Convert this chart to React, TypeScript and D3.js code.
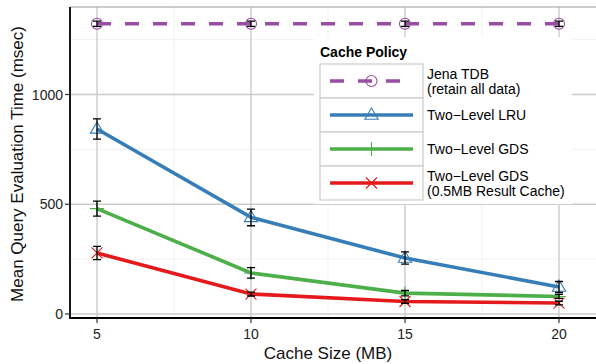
import React, { useEffect, useRef } from 'react';
import * as d3 from 'd3';

const cacheSizes = [5, 10, 15, 20];

const seriesNames = ['jena', 'lru', 'gds', 'gdsResult'];
const seriesLabels = [
  ['Jena TDB', '(retain all data)'],
  ['Two\u2212Level LRU'],
  ['Two\u2212Level GDS'],
  ['Two\u2212Level GDS', '(0.5MB Result Cache)'],
];
const seriesColors = ['#984EA3', '#377EB8', '#4DAF4A', '#E41A1C'];
const seriesShapes = ['circle', 'triangle', 'plus', 'cross'];

const jenaMean = [1322, 1322, 1322, 1322];
const jenaErr = [12, 12, 12, 12];
const lruMean = [843, 440, 255, 123];
const lruErr = [46, 38, 28, 25];
const gdsMean = [480, 187, 95, 80];
const gdsErr = [34, 24, 12, 9];
const gdsResultMean = [278, 91, 57, 50];
const gdsResultErr = [30, 9, 8, 8];

const means = [jenaMean, lruMean, gdsMean, gdsResultMean];
const errs = [jenaErr, lruErr, gdsErr, gdsResultErr];

const xTicks = [5, 10, 15, 20];
const yTicks = [0, 500, 1000];
const xMinor = [7.5, 12.5, 17.5];
const yMinor = [250, 750, 1250];

const font = '"Liberation Sans", Arial, Helvetica, sans-serif';

function drawShape(g: any, shape: string, cx: number, cy: number, color: string) {
  if (shape === 'circle') {
    g.append('circle').attr('cx', cx).attr('cy', cy).attr('r', 5.5)
      .attr('fill', 'none').attr('stroke', color).attr('stroke-width', 1.1);
  } else if (shape === 'triangle') {
    const s = 7;
    g.append('path')
      .attr('d', `M${cx},${cy - s} L${cx + s * 0.95},${cy + s * 0.6} L${cx - s * 0.95},${cy + s * 0.6} Z`)
      .attr('fill', 'none').attr('stroke', color).attr('stroke-width', 1.1);
  } else if (shape === 'plus') {
    const s = 7;
    g.append('path')
      .attr('d', `M${cx - s},${cy} L${cx + s},${cy} M${cx},${cy - s} L${cx},${cy + s}`)
      .attr('stroke', color).attr('stroke-width', 1.1);
  } else {
    const s = 5.5;
    g.append('path')
      .attr('d', `M${cx - s},${cy - s} L${cx + s},${cy + s} M${cx - s},${cy + s} L${cx + s},${cy - s}`)
      .attr('stroke', color).attr('stroke-width', 1.1);
  }
}

function Chart() {
  const svgRef = useRef<SVGSVGElement>(null);

  useEffect(() => {
    if (!svgRef.current) return;
    const width = 596;
    const height = 364;
    const panel = { left: 70, right: 600, top: 7, bottom: 318 };

    const svg = d3.select(svgRef.current);
    svg.selectAll('*').remove();
    svg.attr('width', width).attr('height', height);

    svg.append('rect').attr('width', width).attr('height', height).attr('fill', '#fff');

    const x = d3.scaleLinear().domain([5, 20]).range([97, 559]);
    const y = d3.scaleLinear().domain([0, 1000]).range([314, 94.5]);

    const grid = svg.append('g');
    grid.selectAll('.xminor').data(xMinor).enter().append('line')
      .attr('x1', d => x(d)).attr('x2', d => x(d))
      .attr('y1', panel.top).attr('y2', panel.bottom)
      .attr('stroke', '#f2f2f2').attr('stroke-width', 1);
    grid.selectAll('.yminor').data(yMinor).enter().append('line')
      .attr('x1', panel.left).attr('x2', panel.right)
      .attr('y1', d => y(d)).attr('y2', d => y(d))
      .attr('stroke', '#f2f2f2').attr('stroke-width', 1);
    grid.selectAll('.xmajor').data(xTicks).enter().append('line')
      .attr('x1', d => x(d)).attr('x2', d => x(d))
      .attr('y1', panel.top).attr('y2', panel.bottom)
      .attr('stroke', '#cccccc').attr('stroke-width', 1.4);
    grid.selectAll('.ymajor').data(yTicks).enter().append('line')
      .attr('x1', panel.left).attr('x2', panel.right)
      .attr('y1', d => y(d)).attr('y2', d => y(d))
      .attr('stroke', '#cccccc').attr('stroke-width', 1.4);
    // top border
    grid.append('line').attr('x1', panel.left).attr('x2', panel.right)
      .attr('y1', panel.top).attr('y2', panel.top)
      .attr('stroke', '#999').attr('stroke-width', 1);

    const line = d3.line<number>()
      .x((_, i) => x(cacheSizes[i]))
      .y(d => y(d));

    const data = svg.append('g');
    means.forEach((m, si) => {
      data.append('path')
        .attr('d', line(m) as string)
        .attr('fill', 'none')
        .attr('stroke', seriesColors[si])
        .attr('stroke-width', 3.6)
        .attr('stroke-dasharray', si === 0 ? '14,14' : null);
    });
    means.forEach((m, si) => {
      m.forEach((v, i) => drawShape(data, seriesShapes[si], x(cacheSizes[i]), y(v), seriesColors[si]));
    });
    means.forEach((m, si) => {
      m.forEach((v, i) => {
        const cx = x(cacheSizes[i]);
        const t = y(v + errs[si][i]);
        const b = y(v - errs[si][i]);
        const w = 4;
        data.append('path')
          .attr('d', `M${cx - w},${t} L${cx + w},${t} M${cx},${t} L${cx},${b} M${cx - w},${b} L${cx + w},${b}`)
          .attr('stroke', '#000').attr('stroke-width', 1.3).attr('fill', 'none');
      });
    });

    // axes
    const axes = svg.append('g');
    axes.append('line').attr('x1', panel.left).attr('x2', panel.left)
      .attr('y1', panel.top).attr('y2', panel.bottom + 0.8)
      .attr('stroke', '#000').attr('stroke-width', 1.8);
    axes.append('line').attr('x1', panel.left - 0.8).attr('x2', panel.right)
      .attr('y1', panel.bottom).attr('y2', panel.bottom)
      .attr('stroke', '#000').attr('stroke-width', 1.8);

    axes.selectAll('.ytick').data(yTicks).enter().append('line')
      .attr('x1', panel.left - 5).attr('x2', panel.left)
      .attr('y1', d => y(d)).attr('y2', d => y(d))
      .attr('stroke', '#333').attr('stroke-width', 1.2);
    axes.selectAll('.ylab').data(yTicks).enter().append('text')
      .attr('x', panel.left - 7).attr('y', d => y(d) + 5)
      .attr('text-anchor', 'end').attr('font-family', font).attr('font-size', 14)
      .attr('fill', '#222').text(d => String(d));
    axes.selectAll('.xtick').data(xTicks).enter().append('line')
      .attr('x1', d => x(d)).attr('x2', d => x(d))
      .attr('y1', panel.bottom).attr('y2', panel.bottom + 5)
      .attr('stroke', '#333').attr('stroke-width', 1.2);
    axes.selectAll('.xlab').data(xTicks).enter().append('text')
      .attr('x', d => x(d)).attr('y', 339)
      .attr('text-anchor', 'middle').attr('font-family', font).attr('font-size', 14)
      .attr('fill', '#222').text(d => String(d));

    svg.append('text').attr('x', 328).attr('y', 359)
      .attr('text-anchor', 'middle').attr('font-family', font).attr('font-size', 17)
      .attr('fill', '#111').text('Cache Size (MB)');
    svg.append('text')
      .attr('transform', 'translate(23,164) rotate(-90)')
      .attr('text-anchor', 'middle').attr('font-family', font).attr('font-size', 17)
      .attr('fill', '#111').text('Mean Query Evaluation Time (msec)');

    // legend
    const lg = svg.append('g');
    lg.append('rect').attr('x', 314).attr('y', 37).attr('width', 258).attr('height', 167).attr('fill', '#fff');
    lg.append('text').attr('x', 320).attr('y', 57)
      .attr('font-family', font).attr('font-size', 14).attr('font-weight', 'bold')
      .attr('fill', '#000').text('Cache Policy');
    const keyX = 320;
    const keyW = 103;
    const keyH = 34;
    const keyTop = 64;
    seriesNames.forEach((_, si) => {
      const ky = keyTop + si * keyH;
      const cy = ky + keyH / 2;
      lg.append('rect').attr('x', keyX).attr('y', ky).attr('width', keyW).attr('height', keyH)
        .attr('fill', '#fff').attr('stroke', '#cccccc').attr('stroke-width', 1.2);
      lg.append('line').attr('x1', keyX + 10).attr('x2', keyX + keyW - 10)
        .attr('y1', cy).attr('y2', cy)
        .attr('stroke', seriesColors[si]).attr('stroke-width', 3.6)
        .attr('stroke-dasharray', si === 0 ? '14,14' : null);
      drawShape(lg, seriesShapes[si], keyX + keyW / 2, cy, seriesColors[si]);
      const lines = seriesLabels[si];
      const t = lg.append('text').attr('font-family', font).attr('font-size', 14).attr('fill', '#000');
      lines.forEach((s, li) => {
        const yy = lines.length === 1 ? cy + 5 : cy - 2 + li * 15;
        t.append('tspan').attr('x', keyX + keyW + 4).attr('y', yy).text(s);
      });
    });
  }, []);

  return <svg ref={svgRef} style={{ position: 'absolute', left: 0, top: 0 }} />;
}

export default function App() {
  return <Chart />;
}
